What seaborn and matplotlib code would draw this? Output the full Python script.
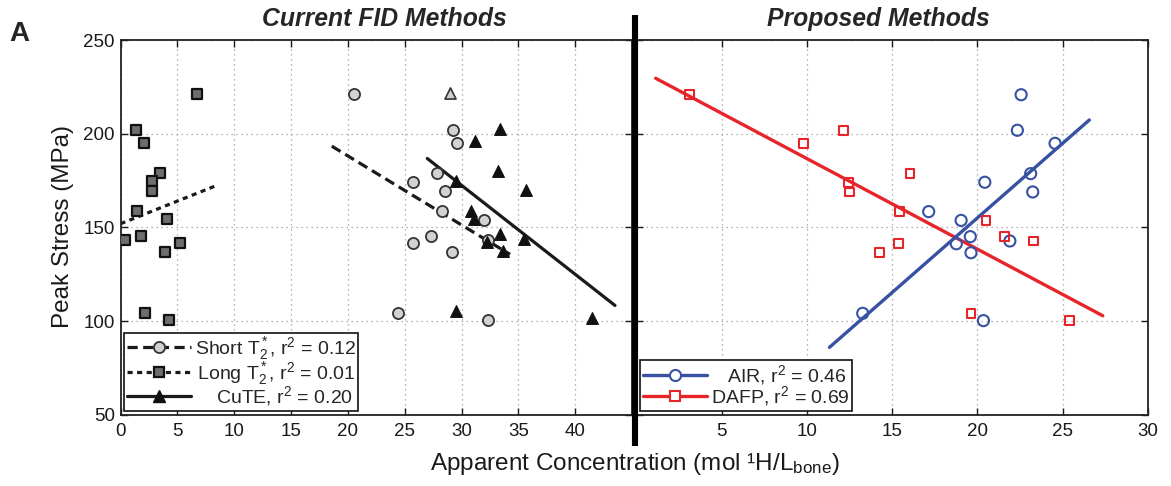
import numpy as np
import pandas as pd
import matplotlib
matplotlib.use("Agg")
import matplotlib.pyplot as plt
from matplotlib.lines import Line2D
import seaborn as sns

# ---------------- data ----------------
short_x = [20.54, 29.22, 29.62, 27.84, 25.70, 28.51, 28.30, 32.00, 27.33, 25.73, 32.35, 29.18, 24.38, 32.35]
short_y = [221.3, 202.2, 195.3, 179.0, 174.4, 169.3, 158.7, 154.1, 145.6, 141.8, 143.2, 136.8, 104.5, 100.4]
short_fit_x = [18.58, 34.26]
short_fit_y = [193.5, 135.6]

long_x = [6.75, 1.34, 2.07, 3.47, 2.77, 2.77, 1.48, 4.09, 0.40, 1.83, 5.26, 3.94, 2.15, 4.29]
long_y = [221.5, 202.4, 195.1, 179.2, 174.6, 169.3, 158.7, 154.3, 143.2, 145.4, 141.6, 136.8, 104.4, 100.4]
long_fit_x = [0.0, 8.46]
long_fit_y = [152.0, 172.5]

cute_x = [33.35, 31.20, 33.23, 29.48, 35.66, 30.83, 31.09, 33.35, 35.49, 32.23, 33.67, 29.48, 41.50]
cute_y = [202.9, 196.2, 180.1, 174.8, 170.3, 158.7, 154.6, 146.3, 143.6, 142.4, 137.2, 105.4, 101.5]
cute_out_x = [28.98]
cute_out_y = [222.0]
cute_fit_x = [26.98, 43.49]
cute_fit_y = [186.9, 108.3]

air_x = [22.56, 22.34, 24.55, 23.12, 20.43, 23.24, 17.14, 19.04, 19.58, 21.90, 18.76, 19.62, 13.27, 20.35]
air_y = [221.0, 202.0, 195.0, 178.8, 174.2, 169.0, 158.5, 153.8, 145.1, 142.8, 141.3, 136.5, 104.1, 100.2]
air_fit_x = [11.32, 26.56]
air_fit_y = [85.9, 207.5]

dafp_x = [3.10, 12.16, 9.81, 16.05, 12.43, 12.49, 15.44, 20.50, 21.60, 23.28, 15.36, 14.25, 19.62, 25.41]
dafp_y = [221.0, 202.0, 195.0, 178.8, 174.2, 169.0, 158.5, 153.8, 145.1, 142.8, 141.3, 136.5, 104.1, 100.2]
dafp_fit_x = [1.13, 27.35]
dafp_fit_y = [229.8, 102.8]

left_xticks = [0, 5, 10, 15, 20, 25, 30, 35, 40]
right_xticks = [5, 10, 15, 20, 25, 30]
yticks = [50, 100, 150, 200, 250]

left_labels = [r"Short T$_2^*$, r$^2$ = 0.12",
               r"$\hspace{0.15}$Long T$_2^*$, r$^2$ = 0.01",
               r"$\hspace{1.3}$CuTE, r$^2$ = 0.20"]
right_labels = [r"$\hspace{1.0}$AIR, r$^2$ = 0.46",
                r"DAFP, r$^2$ = 0.69"]

# ---------------- style ----------------
sns.set_theme(style="white")
plt.rcParams["font.family"] = ["Liberation Sans", "DejaVu Sans"]
plt.rcParams["mathtext.fontset"] = "custom"
plt.rcParams["mathtext.rm"] = "Liberation Sans"
plt.rcParams["mathtext.it"] = "Liberation Sans:italic"
plt.rcParams["mathtext.bf"] = "Liberation Sans:bold"

BLUE = "#3751a3"
RED = "#e8242b"
DARK = "#1a1a1a"

W, H = 1171, 486
fig = plt.figure(figsize=(W / 100, H / 100), dpi=100)

def px_box(x0, x1, ytop, ybot):
    return [x0 / W, 1 - ybot / H, (x1 - x0) / W, (ybot - ytop) / H]

axL = fig.add_axes(px_box(120.5, 632.2, 40.5, 414.5))
axR = fig.add_axes(px_box(636.4, 1148, 40.5, 414.5))

# ---------------- left panel ----------------
sns.lineplot(x=long_fit_x, y=long_fit_y, ax=axL, color=DARK, linewidth=2.3, zorder=2)
axL.lines[-1].set_dashes([1.6, 1.4])
sns.lineplot(x=short_fit_x, y=short_fit_y, ax=axL, color=DARK, linewidth=2.3, zorder=2)
axL.lines[-1].set_dashes([3.2, 1.7])
sns.lineplot(x=cute_fit_x, y=cute_fit_y, ax=axL, color=DARK, linewidth=2.3, zorder=2)

sns.scatterplot(x=long_x, y=long_y, ax=axL, marker="s", s=50, color="#6e6e6e",
                edgecolor="#111111", linewidth=1.6, zorder=3)
sns.scatterplot(x=short_x, y=short_y, ax=axL, marker="o", s=64, color="#d2d2d2",
                edgecolor="#333333", linewidth=1.3, zorder=3)
sns.scatterplot(x=cute_x, y=cute_y, ax=axL, marker="^", s=72, color="#111111",
                edgecolor="#111111", linewidth=0.8, zorder=4)
sns.scatterplot(x=cute_out_x, y=cute_out_y, ax=axL, marker="^", s=64, color="#cfcfcf",
                edgecolor="#333333", linewidth=1.2, zorder=4)

axL.set_xlim(0, 45)
axL.set_ylim(50, 250)
axL.set_xticks(left_xticks)
axL.set_yticks(yticks)

# ---------------- right panel ----------------
sns.lineplot(x=dafp_fit_x, y=dafp_fit_y, ax=axR, color=RED, linewidth=2.4, zorder=2)
sns.lineplot(x=air_fit_x, y=air_fit_y, ax=axR, color=BLUE, linewidth=2.4, zorder=2)
sns.scatterplot(x=air_x, y=air_y, ax=axR, marker="o", s=64, facecolor="none",
                edgecolor=BLUE, linewidth=1.5, zorder=3)
sns.scatterplot(x=dafp_x, y=dafp_y, ax=axR, marker="s", s=38, facecolor="none",
                edgecolor=RED, linewidth=1.5, zorder=3)

axR.set_xlim(0, 30)
axR.set_ylim(50, 250)
axR.set_xticks(right_xticks)
axR.set_yticks(yticks)
axR.set_yticklabels([])

for ax in (axL, axR):
    ax.grid(True, linestyle=(0, (1, 3)), color="#9a9a9a", linewidth=0.9)
    ax.tick_params(direction="in", length=5, width=1, top=True, right=True,
                   bottom=True, left=True, labelsize=13.5, colors=DARK, pad=6)
    for sp in ax.spines.values():
        sp.set_color("#222222")
        sp.set_linewidth(1.3)
    ax.set_xlabel("")
    ax.set_ylabel("")
axL.tick_params(axis="y", pad=4)

# ---------------- legends ----------------
leg_kw = dict(loc="lower left", bbox_to_anchor=(0.0, 0.0), fontsize=14,
              frameon=True, fancybox=False, handlelength=3.3, handletextpad=0.2,
              labelspacing=-0.12, borderpad=0.12, borderaxespad=0.2)
hL = [Line2D([], [], color=DARK, lw=2.3, dashes=[3.2, 1.7], marker="o", ms=8,
             mfc="#d2d2d2", mec="#333333", mew=1.3),
      Line2D([], [], color=DARK, lw=2.3, dashes=[1.6, 1.4], marker="s", ms=7,
             mfc="#6e6e6e", mec="#111111", mew=1.6),
      Line2D([], [], color=DARK, lw=2.3, marker="^", ms=9, mfc="#111111",
             mec="#111111")]
legL = axL.legend(hL, left_labels, **leg_kw)
hR = [Line2D([], [], color=BLUE, lw=2.4, marker="o", ms=8, mfc="white",
             mec=BLUE, mew=1.5),
      Line2D([], [], color=RED, lw=2.4, marker="s", ms=6.5, mfc="white",
             mec=RED, mew=1.5)]
legR = axR.legend(hR, right_labels, **leg_kw)
for leg in (legL, legR):
    fr = leg.get_frame()
    fr.set_edgecolor("#111111")
    fr.set_linewidth(1.2)
    fr.set_alpha(1)

# ---------------- divider, titles, labels ----------------
fig.add_artist(Line2D([634.6 / W, 634.6 / W], [1 - 15 / H, 1 - 446 / H],
                      color="black", lw=4.4, solid_capstyle="butt",
                      transform=fig.transFigure, zorder=10))

title_font = ["Liberation Sans Narrow", "Liberation Sans"]
fig.text(384 / W, 1 - 19 / H, "Current FID Methods", ha="center", va="center",
         fontsize=17.8, fontweight="bold", fontstyle="italic", family=title_font)
fig.text(878 / W, 1 - 19 / H, "Proposed Methods", ha="center", va="center",
         fontsize=17.8, fontweight="bold", fontstyle="italic", family=title_font)
fig.text(19 / W, 1 - 34 / H, "A", ha="center", va="center", fontsize=20,
         fontweight="bold")
fig.text(63 / W, 1 - 227 / H, "Peak Stress (MPa)", rotation=90, ha="center",
         va="center", fontsize=17.5, color=DARK)
fig.text(635 / W, 1 - 464 / H, r"Apparent Concentration (mol ¹H/L$_{\mathrm{bone}}$)",
         ha="center", va="center", fontsize=17.5, color=DARK)

fig.savefig("out.png", dpi=100)
